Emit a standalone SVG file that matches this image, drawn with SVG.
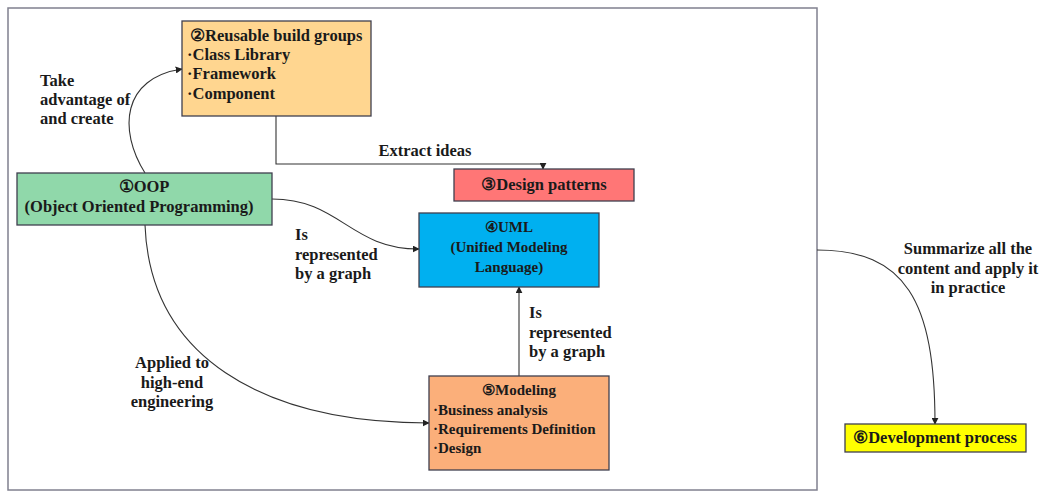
<svg xmlns="http://www.w3.org/2000/svg" width="1040" height="491" viewBox="0 0 1040 491">
<defs>
<marker id="arr" viewBox="0 0 10 10" refX="9" refY="5" markerWidth="7" markerHeight="7" orient="auto" markerUnits="userSpaceOnUse">
<path d="M0,0 L10,5 L0,10 z" fill="#222"/>
</marker>
<style>
.frame{fill:#fff;stroke:#80808f;stroke-width:1.5}
.box{stroke:#3f3f4f;stroke-width:1.3}
.t{font-family:'Liberation Serif','Times New Roman',serif;font-weight:700;font-size:16.5px;fill:#1a1a1a}
.s{font-size:15px}
.m{text-anchor:middle}
.c{fill:none;stroke:#333;stroke-width:1.1;marker-end:url(#arr)}
</style>
</defs>
<rect width="1040" height="491" fill="#fff"/>
<rect class="frame" x="8" y="8" width="809" height="482"/>

<g id="connectors">
<path class="c" d="M145,173 C118,130 122,78 182,69"/>
<path class="c" d="M276,116 L276,164 L543,164 L543,169"/>
<path class="c" d="M272,199 C340,199 350,249 419,249"/>
<path class="c" d="M145,225 C150,355 260,423 429,423"/>
<path class="c" d="M519,376 L519,287"/>
<path class="c" d="M817,250 C905,250 935,300 935,424"/>
<text class="t" x="40" y="86">Take</text>
<text class="t" x="40" y="105">advantage of</text>
<text class="t" x="40" y="124">and create</text>
<text class="t m" x="425" y="156">Extract ideas</text>
<text class="t" x="295" y="240">Is</text>
<text class="t" x="295" y="260">represented</text>
<text class="t" x="295" y="279">by a graph</text>
<text class="t m" x="172" y="368">Applied to</text>
<text class="t m" x="172" y="388">high-end</text>
<text class="t m" x="172" y="407">engineering</text>
<text class="t" x="529" y="318">Is</text>
<text class="t" x="529" y="338">represented</text>
<text class="t" x="529" y="357">by a graph</text>
<text class="t m" x="968" y="254">Summarize all the</text>
<text class="t m" x="968" y="274">content and apply it</text>
<text class="t m" x="968" y="293">in practice</text>
</g>

<g id="node1">
<rect class="box" x="17" y="173" width="255" height="52" fill="#90d8aa"/>
<text class="t m" x="144" y="192">①OOP</text>
<text class="t m" x="139" y="212">(Object Oriented Programming)</text>
</g>
<g id="node2">
<rect class="box" x="182" y="21" width="189" height="95" fill="#ffd690"/>
<text class="t" x="190" y="41">②Reusable build groups</text>
<text class="t" x="187" y="60">·Class Library</text>
<text class="t" x="187" y="79">·Framework</text>
<text class="t" x="187" y="99">·Component</text>
</g>
<g id="node3">
<rect class="box" x="454" y="169" width="180" height="32" fill="#ff7676"/>
<text class="t m" x="544" y="190">③Design patterns</text>
</g>
<g id="node4">
<rect class="box" x="419" y="213" width="180" height="74" fill="#00b0f0"/>
<text class="t s m" x="509" y="232">④UML</text>
<text class="t s m" x="509" y="252">(Unified Modeling</text>
<text class="t s m" x="509" y="272">Language)</text>
</g>
<g id="node5">
<rect class="box" x="429" y="376" width="180" height="94" fill="#fbaf7a"/>
<text class="t s m" x="519" y="395">⑤Modeling</text>
<text class="t s" x="433" y="415">·Business analysis</text>
<text class="t s" x="433" y="434">·Requirements Definition</text>
<text class="t s" x="433" y="453">·Design</text>
</g>
<g id="node6">
<rect class="box" x="845" y="424" width="181" height="28" fill="#ffff00"/>
<text class="t m" x="935" y="443">⑥Development process</text>
</g>
</svg>
